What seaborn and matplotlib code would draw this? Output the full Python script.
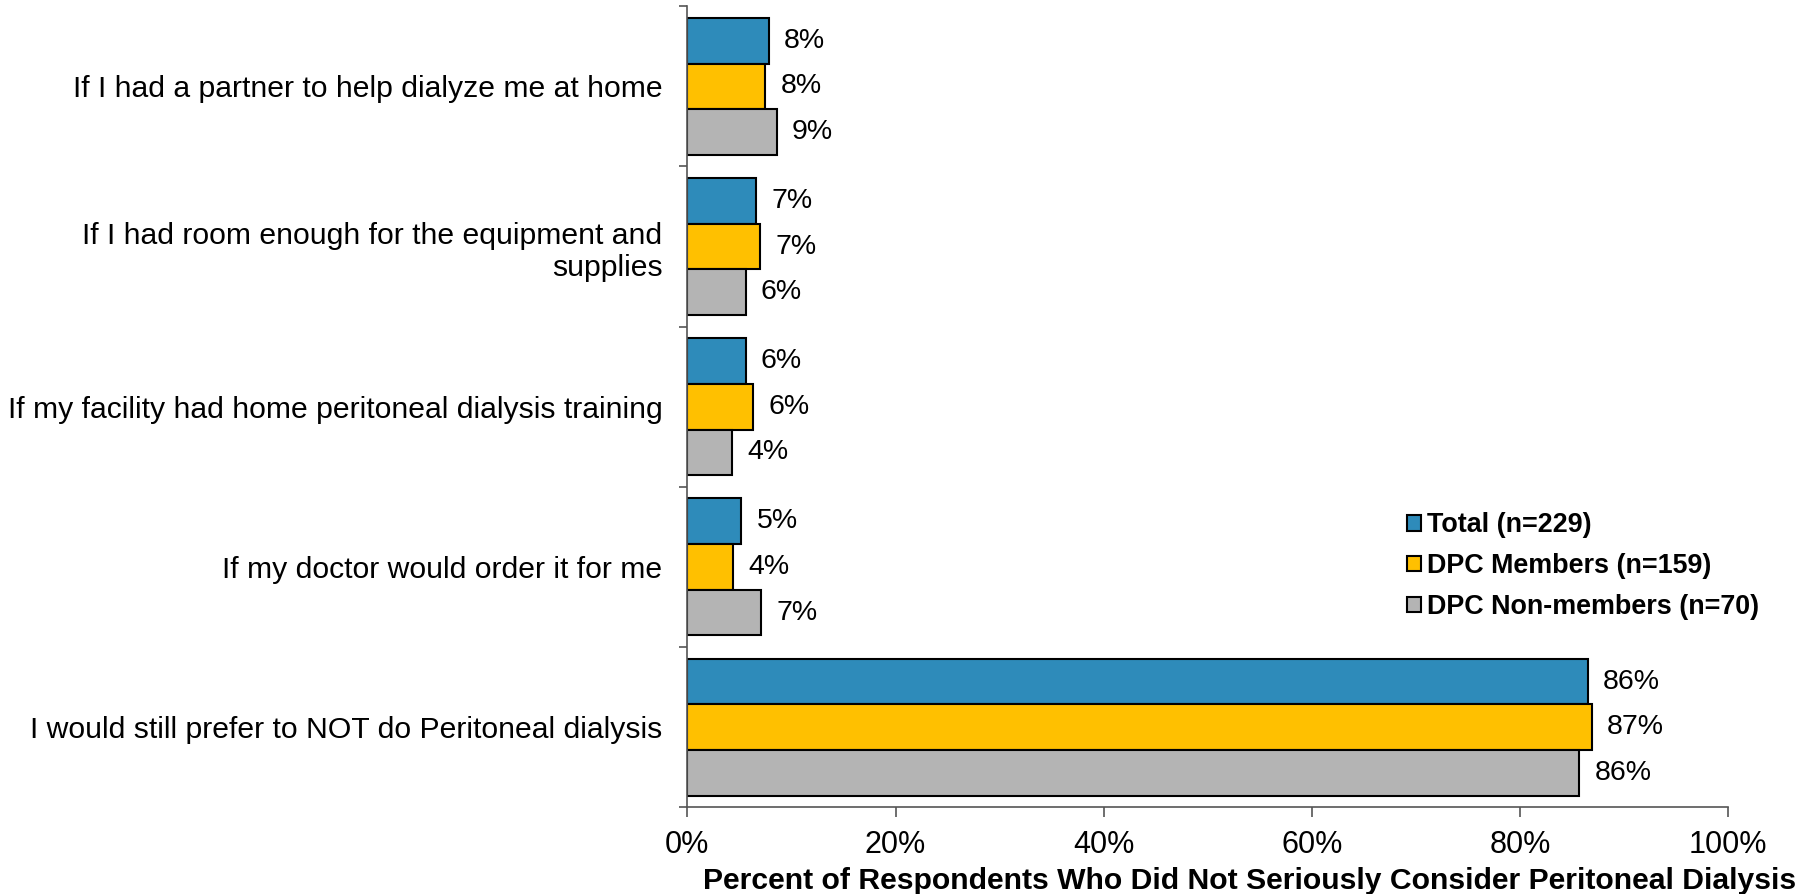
import matplotlib
matplotlib.use("Agg")
import matplotlib.pyplot as plt
import seaborn as sns
import pandas as pd
from matplotlib.ticker import FuncFormatter, FixedLocator

sns.set_theme(style="white")
plt.rcParams["font.family"] = ["Liberation Sans", "DejaVu Sans"]
plt.rcParams["text.color"] = "black"
plt.rcParams["xtick.color"] = "black"
plt.rcParams["ytick.color"] = "black"

categories = [
    "If I had a partner to help dialyze me at home",
    "If I had room enough for the equipment and\nsupplies",
    "If my facility had home peritoneal dialysis training",
    "If my doctor would order it for me",
    "I would still prefer to NOT do Peritoneal dialysis",
]
groups = ["Total (n=229)", "DPC Members (n=159)", "DPC Non-members (n=70)"]
total = [7.8, 6.6, 5.6, 5.2, 86.5]
members = [7.5, 7.0, 6.3, 4.4, 86.9]
non_members = [8.6, 5.6, 4.3, 7.1, 85.7]
x_ticks = [0, 20, 40, 60, 80, 100]
palette = ["#2E8BBA", "#FFC000", "#B4B4B4"]

df = pd.DataFrame({
    "category": categories * 3,
    "group": [groups[0]] * 5 + [groups[1]] * 5 + [groups[2]] * 5,
    "value": total + members + non_members,
})

fig = plt.figure(figsize=(18.04, 8.94), dpi=100)
ax = fig.add_axes([0.381, 0.097, 0.577, 0.896])

sns.barplot(data=df, y="category", x="value", hue="group", order=categories,
            hue_order=groups, palette=palette, orient="h", width=0.855,
            edgecolor="black", linewidth=1.5, saturation=1, ax=ax, errorbar=None)

for cont in ax.containers:
    ax.bar_label(cont, fmt="{:.0f}%", padding=11, fontsize=20.5, color="black")

ax.set_xlim(0, 100)
ax.set_ylim(4.5, -0.5)
ax.xaxis.set_major_locator(FixedLocator(x_ticks))
ax.xaxis.set_major_formatter(FuncFormatter(lambda v, p: f"{v:.0f}%"))
ax.tick_params(axis="x", labelsize=22, length=7, width=1.2, color="#555555",
               labelcolor="black", direction="out", bottom=True, pad=9)

# category labels at group centres, tick marks at group boundaries
ax.set_yticks(range(len(categories)))
ax.set_yticklabels(categories, fontsize=21.7, ha="right", multialignment="right",
                   color="black")
ax.tick_params(axis="y", which="major", length=0, pad=18)
ax.set_yticks([i - 0.5 for i in range(len(categories) + 1)], minor=True)
ax.tick_params(axis="y", which="minor", length=6, width=1.2, color="#555555",
               direction="out", left=True)

for side in ["top", "right"]:
    ax.spines[side].set_visible(False)
for side in ["left", "bottom"]:
    ax.spines[side].set_color("#555555")
    ax.spines[side].set_linewidth(1.2)

ax.set_ylabel("")
ax.set_xlabel("Percent of Respondents Who Did Not Seriously Consider Peritoneal Dialysis",
              fontsize=21.7, fontweight="bold", color="black")
ax.xaxis.set_label_coords(0.54, -0.075)

leg = ax.legend(loc="center left", bbox_to_anchor=(0.691, 0.301), frameon=False,
                prop={"weight": "bold", "size": 19.4}, handlelength=0.52,
                handleheight=0.52, handletextpad=0.22, labelspacing=0.55,
                borderaxespad=0, borderpad=0)
for t in leg.get_texts():
    t.set_color("black")

fig.savefig("out.png", dpi=100)
